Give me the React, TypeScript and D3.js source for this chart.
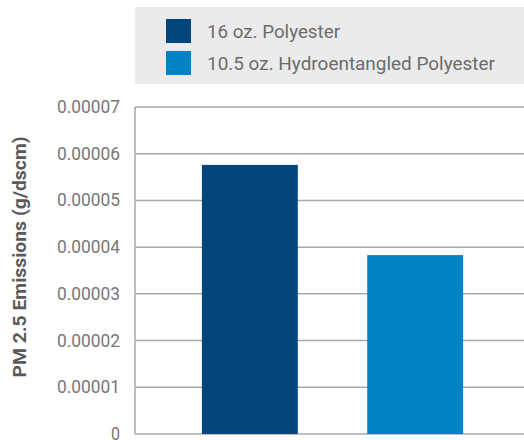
import React from "react";
import * as d3 from "d3";

const categories = ["16 oz. Polyester", "10.5 oz. Hydroentangled Polyester"];
const values = [0.0000576, 0.0000383];
const colors = ["#00467d", "#0082c8"];
const yTicks = [0, 0.00001, 0.00002, 0.00003, 0.00004, 0.00005, 0.00006, 0.00007];
const yTickLabels = ["0", "0.00001", "0.00002", "0.00003", "0.00004", "0.00005", "0.00006", "0.00007"];
const yTitle = "PM 2.5 Emissions (g/dscm)";

const W = 524;
const H = 440;
const FONT = "'Roboto', 'Liberation Sans', sans-serif";

export default function App() {
  const left = 135;
  const top = 107;
  const bottom = 434;
  const x = d3.scaleBand<string>().domain(categories).range([left, 530]).paddingInner(0.42).paddingOuter(0.405);
  const y = d3.scaleLinear().domain([0, 0.00007]).range([bottom, top]);
  const legendW = [133, 288];

  return (
    <svg width={W} height={H} style={{ position: "absolute", left: 0, top: 0, background: "#fff" }}>
      {/* legend */}
      <rect x={135} y={7} width={W - 135} height={77} fill="#ebebeb" />
      {categories.map((c, i) => (
        <g key={c}>
          <rect x={166} y={19 + i * 32} width={25} height={24} fill={colors[i]} />
          <text
            x={207}
            y={37.5 + i * 32}
            fontFamily={FONT}
            fontSize={19}
            fill="#6b6b6b"
            textLength={legendW[i]}
            lengthAdjust="spacingAndGlyphs"
          >
            {c}
          </text>
        </g>
      ))}
      {/* gridlines */}
      {yTicks.map((t) => (
        <line key={t} x1={left} x2={W} y1={y(t)} y2={y(t)} stroke="#a8a8a8" strokeWidth={1.5} />
      ))}
      <line x1={left} x2={left} y1={top} y2={bottom} stroke="#a8a8a8" strokeWidth={1.5} />
      {/* tick labels */}
      {yTicks.map((t, i) => (
        <text
          key={t}
          x={120}
          y={y(t)}
          dy="0.33em"
          textAnchor="end"
          fontFamily={FONT}
          fontSize={18}
          fill="#777"
          textLength={i === 0 ? 9 : 63}
          lengthAdjust="spacingAndGlyphs"
        >
          {yTickLabels[i]}
        </text>
      ))}
      {/* bars */}
      {categories.map((c, i) => (
        <rect
          key={c}
          x={x(c)}
          y={y(values[i])}
          width={x.bandwidth()}
          height={bottom - y(values[i])}
          fill={colors[i]}
        />
      ))}
      {/* y title */}
      <text
        transform={`translate(26, 257) rotate(-90)`}
        textAnchor="middle"
        fontFamily={FONT}
        fontWeight="bold"
        fontSize={18}
        fill="#5a5a5a"
        textLength={241}
        lengthAdjust="spacingAndGlyphs"
      >
        {yTitle}
      </text>
    </svg>
  );
}
